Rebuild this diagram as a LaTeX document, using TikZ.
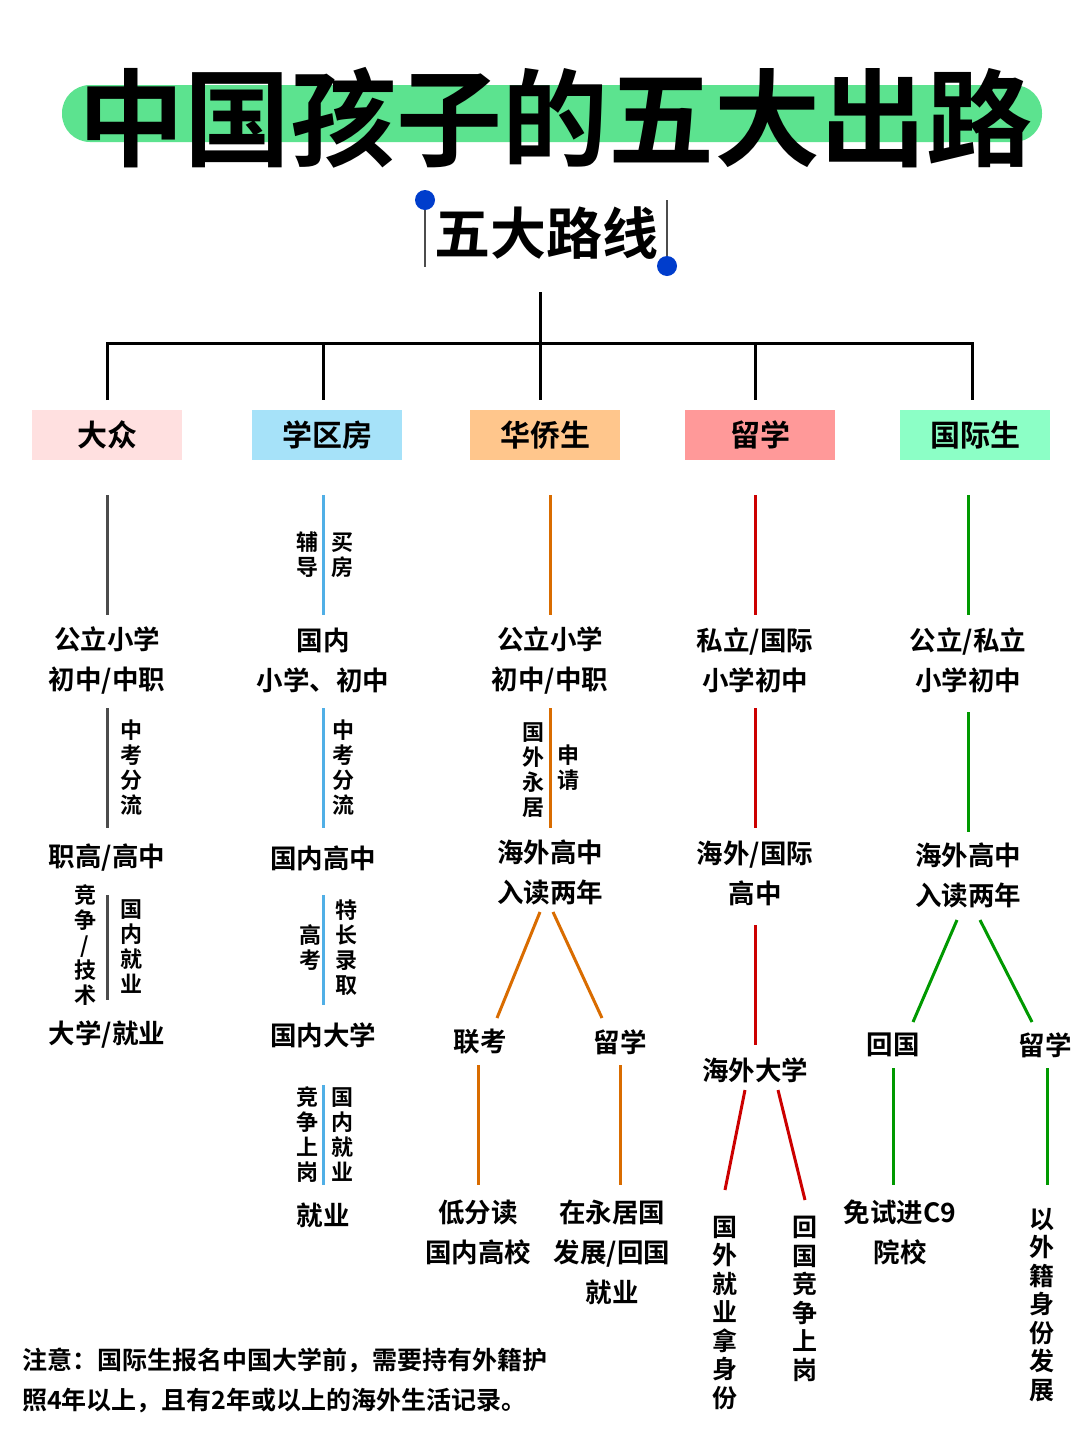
\documentclass[tikz,border=0pt]{standalone}
\usepackage{fontspec}
\setmainfont{Noto Sans CJK SC}[BoldFont={Noto Sans CJK SC Bold}]
\definecolor{titlegreen}{HTML}{5CE38F}
\begin{document}
\begin{tikzpicture}[x=1pt,y=-1pt,
  txt/.style={font=\fontsize{26.5}{40}\selectfont\bfseries,align=center,inner sep=0},
  vt/.style={font=\fontsize{22}{25}\selectfont\bfseries,align=center,inner sep=0},
  lab/.style={minimum width=150pt,minimum height=50pt,font=\fontsize{30}{30}\selectfont\bfseries,inner sep=0},
  ln/.style={line width=3pt}]
\useasboundingbox (0,0) rectangle (1080,1446);
\fill[white] (0,0) rectangle (1080,1446);
\fill[titlegreen,rounded corners=28pt] (62,85) rectangle (1042,142);
\node[font=\fontsize{106}{106}\selectfont\bfseries,inner sep=0] (title) at (555,118) {中国孩子的五大出路};
% subtitle
\node[font=\fontsize{56}{56}\selectfont\bfseries,inner sep=0,minimum width=242pt,minimum height=68pt] (sub) at (546,233) {五大路线};
\draw[line width=1.5pt,black!70] (425,200) -- (425,267) (667,200) -- (667,267);
\fill[blue!70!cyan!80!black] (425,200) circle (10) (667,266) circle (10);
% tree
\coordinate (top) at (540,292);
\coordinate (hm) at (540,343);
\draw[ln] (top) -- (hm);
\draw[ln] (107,400) -- (107,343) -- (972,343) -- (972,400);
\foreach \x in {323,540,755}{\draw[ln] (\x,343) -- (\x,400);}
\node[lab,fill=red!12] (l1) at (107,435) {大众};
\node[lab,fill=cyan!35] (l2) at (327,435) {学区房};
\node[lab,fill=orange!45] (l3) at (545,435) {华侨生};
\node[lab,fill=red!40] (l4) at (760,435) {留学};
\node[lab,fill=green!50!cyan!45] (l5) at (975,435) {国际生};
% column 1
\begin{scope}[every path/.style={ln,draw=black!70}]
\draw (107,495) -- (107,615);
\draw (107,708) -- (107,828);
\draw (107,895) -- (107,1000);
\end{scope}
\node[txt] (a1) at (107,660) {公立小学\\初中/中职};
\node[vt] at (131,768) {中\\考\\分\\流};
\node[txt] (a2) at (107,858) {职高/高中};
\node[vt] at (85,945) {竞\\争\\/\\技\\术};
\node[vt] at (131,947) {国\\内\\就\\业};
\node[txt] (a3) at (107,1035) {大学/就业};
% column 2
\begin{scope}[every path/.style={ln,draw=cyan!80!blue!70}]
\draw (323,495) -- (323,615);
\draw (323,708) -- (323,828);
\draw (323,895) -- (323,1005);
\draw (323,1085) -- (323,1185);
\end{scope}
\node[vt] at (307,555) {辅\\导};
\node[vt] at (342,555) {买\\房};
\node[txt] (b1) at (323,660) {国内\\小学、初中};
\node[vt] at (343,768) {中\\考\\分\\流};
\node[txt] (b2) at (323,858) {国内高中};
\node[vt] at (310,948) {高\\考};
\node[vt] at (346,948) {特\\长\\录\\取};
\node[txt] (b3) at (323,1035) {国内大学};
\node[vt] at (307,1135) {竞\\争\\上\\岗};
\node[vt] at (342,1135) {国\\内\\就\\业};
\node[txt] (b4) at (323,1215) {就业};
% column 3
\begin{scope}[every path/.style={ln,draw=orange!85!black}]
\draw (550,495) -- (550,615);
\draw (550,708) -- (550,828);
\draw (540,912) -- (497,1018);
\draw (553,912) -- (602,1018);
\draw (478,1065) -- (478,1185);
\draw (620,1065) -- (620,1185);
\end{scope}
\node[txt] (c1) at (550,660) {公立小学\\初中/中职};
\node[vt] at (533,770) {国\\外\\永\\居};
\node[vt] at (568,768) {申\\请};
\node[txt] (c2) at (550,872) {海外高中\\入读两年};
\node[txt] (c3) at (480,1042) {联考};
\node[txt] (c4) at (620,1042) {留学};
\node[txt] (c5) at (478,1232) {低分读\\国内高校};
\node[txt] (c6) at (612,1252) {在永居国\\发展/回国\\就业};
% column 4
\begin{scope}[every path/.style={ln,draw=red!80!black}]
\draw (755,495) -- (755,615);
\draw (755,708) -- (755,828);
\draw (755,925) -- (755,1045);
\draw (745,1090) -- (725,1190);
\draw (778,1090) -- (805,1200);
\end{scope}
\node[txt] (d1) at (755,660) {私立/国际\\小学初中};
\node[txt] (d2) at (755,873) {海外/国际\\高中};
\node[txt] (d3) at (755,1070) {海外大学};
\node[vt,font=\fontsize{25}{28.5}\selectfont\bfseries,anchor=north] at (725,1216) {国\\外\\就\\业\\拿\\身\\份};
\node[vt,font=\fontsize{25}{28.5}\selectfont\bfseries,anchor=north] at (805,1216) {回\\国\\竞\\争\\上\\岗};
% column 5
\begin{scope}[every path/.style={ln,draw=green!60!black}]
\draw (968,495) -- (968,615);
\draw (968,712) -- (968,832);
\draw (957,920) -- (913,1022);
\draw (980,920) -- (1032,1022);
\draw (893,1068) -- (893,1185);
\draw (1047,1068) -- (1047,1185);
\end{scope}
\node[txt] (e1) at (968,660) {公立/私立\\小学初中};
\node[txt] (e2) at (968,875) {海外高中\\入读两年};
\node[txt] (e3) at (893,1045) {回国};
\node[txt] (e4) at (1045,1045) {留学};
\node[txt] (e5) at (900,1232) {免试进C9\\院校};
\node[vt,font=\fontsize{25}{28.5}\selectfont\bfseries,anchor=north] at (1042,1208) {以\\外\\籍\\身\\份\\发\\展};
% note
\node[txt,align=left,anchor=west,font=\fontsize{25}{40}\selectfont\bfseries] (note) at (22,1380) {注意：国际生报名中国大学前，需要持有外籍护\\照4年以上，且有2年或以上的海外生活记录。};
\end{tikzpicture}
\end{document}
